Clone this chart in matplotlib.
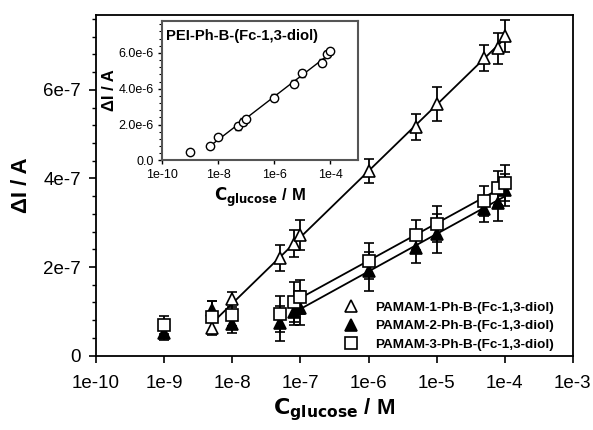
import numpy as np
import matplotlib.pyplot as plt
from matplotlib.lines import Line2D

plt.rcParams['font.family'] = ['Liberation Sans', 'DejaVu Sans']

# data
p1_x = [5e-9, 1e-8, 5e-8, 8e-8, 1e-7, 1e-6, 5e-6, 1e-5, 5e-5, 8e-5, 1e-4]
p1_y = [0.62e-7, 1.27e-7, 2.21e-7, 2.53e-7, 2.73e-7, 4.17e-7, 5.16e-7, 5.68e-7, 6.72e-7, 6.94e-7, 7.22e-7]
p1_err = [1.5e-8, 1.7e-8, 2.9e-8, 3.0e-8, 3.4e-8, 2.7e-8, 2.9e-8, 3.9e-8, 3.0e-8, 3.5e-8, 3.6e-8]

conc = [1e-9, 5e-9, 1e-8, 5e-8, 8e-8, 1e-7, 1e-6, 5e-6, 1e-5, 5e-5, 8e-5, 1e-4]
p2_y = [0.52e-7, 1.03e-7, 0.72e-7, 0.73e-7, 0.99e-7, 1.07e-7, 1.90e-7, 2.42e-7, 2.75e-7, 3.30e-7, 3.44e-7, 3.74e-7]
p2_err = [1.6e-8, 2.0e-8, 2.2e-8, 3.9e-8, 3.0e-8, 3.9e-8, 4.3e-8, 3.4e-8, 4.4e-8, 2.9e-8, 4.0e-8, 3.6e-8]
p3_y = [0.69e-7, 0.87e-7, 0.92e-7, 0.94e-7, 1.22e-7, 1.32e-7, 2.14e-7, 2.72e-7, 2.97e-7, 3.49e-7, 3.78e-7, 3.90e-7]
p3_err = [2.0e-8, 3.7e-8, 2.5e-8, 4.0e-8, 4.5e-8, 3.9e-8, 4.1e-8, 3.4e-8, 4.0e-8, 3.4e-8, 3.8e-8, 4.0e-8]

pei_y = [0.49e-6, 0.81e-6, 1.30e-6, 1.90e-6, 2.16e-6, 2.33e-6, 3.49e-6, 4.28e-6, 4.86e-6, 5.46e-6, 5.93e-6, 6.08e-6]
pei_err = [0.1e-6, 0.1e-6, 0.1e-6, 0.2e-6, 0.2e-6, 0.15e-6, 0.2e-6, 0.2e-6, 0.2e-6, 0.2e-6, 0.15e-6, 0.15e-6]

labels = ['PAMAM-1-Ph-B-(Fc-1,3-diol)', 'PAMAM-2-Ph-B-(Fc-1,3-diol)', 'PAMAM-3-Ph-B-(Fc-1,3-diol)']


def fit_line(ax, x, y, x0, x1, lw=1.3):
    x = np.array(x)
    y = np.array(y)
    m = (x >= x0) & (x <= x1)
    k, b = np.polyfit(np.log10(x[m]), y[m], 1)
    xs = np.array([x0, x1])
    ax.plot(xs, k * np.log10(xs) + b, color='black', lw=lw, zorder=2)


fig = plt.figure(figsize=(5.93, 4.30), dpi=100)
ax = fig.add_axes([0.162, 0.173, 0.804, 0.792])

fit_line(ax, p1_x, p1_y, 5e-9, 1e-4)
fit_line(ax, conc, p2_y, 8e-8, 1e-4)
fit_line(ax, conc, p3_y, 8e-8, 1e-4)

eb = dict(ecolor='black', elinewidth=1.3, capsize=3.6, capthick=1.3, ls='none', mec='black', mew=1.2, zorder=3)
ax.errorbar(p1_x, p1_y, yerr=p1_err, marker='^', ms=9, mfc='white', **eb)
ax.errorbar(conc, p2_y, yerr=p2_err, marker='^', ms=9, mfc='black', **eb)
ax.errorbar(conc, p3_y, yerr=p3_err, marker='s', ms=8, mfc='white', **eb)

ax.set_xscale('log')
ax.set_xlim(1e-10, 1e-3)
ax.set_ylim(0, 7.69e-7)
xt = [1e-10, 1e-9, 1e-8, 1e-7, 1e-6, 1e-5, 1e-4, 1e-3]
ax.set_xticks(xt, ['1e-10', '1e-9', '1e-8', '1e-7', '1e-6', '1e-5', '1e-4', '1e-3'])
ax.xaxis.set_minor_locator(plt.NullLocator())
ax.set_yticks([0, 2e-7, 4e-7, 6e-7], ['0', '2e-7', '4e-7', '6e-7'])
ax.set_yticks(np.arange(0, 7.7e-7, 0.4e-7), minor=True)
ax.tick_params(which='major', direction='out', length=5, width=1.2, labelsize=13.5, pad=6)
ax.tick_params(which='minor', direction='out', length=3, width=1.0)
ax.tick_params(axis='x', pad=9)
for s in ax.spines.values():
    s.set_linewidth(1.3)

ax.set_xlabel(r'$\mathbf{C}_{\mathbf{glucose}}$ / M', fontsize=16, fontweight='bold', labelpad=3)
ax.set_ylabel('ΔI / A', fontsize=16, fontweight='bold', labelpad=8)

handles = [
    Line2D([], [], ls='none', marker='^', ms=9, mfc='white', mec='black', mew=1.2),
    Line2D([], [], ls='none', marker='^', ms=9, mfc='black', mec='black', mew=1.2),
    Line2D([], [], ls='none', marker='s', ms=8, mfc='white', mec='black', mew=1.2),
]
leg = ax.legend(handles, labels, loc='lower right', bbox_to_anchor=(0.985, -0.022), frameon=False,
                prop={'weight': 'bold', 'size': 9.7}, handletextpad=1.0, labelspacing=0.45,
                handlelength=1.5)

# inset
ins = fig.add_axes([0.273, 0.627, 0.331, 0.325])
fit_line(ins, conc, pei_y, 5e-9, 1e-4, lw=1.0)
ins.errorbar(conc, pei_y, yerr=pei_err, marker='o', ms=6, mfc='white', mec='black', mew=1.0,
             ecolor='black', elinewidth=1.0, capsize=2, ls='none', zorder=3)
ins.set_xscale('log')
ins.set_xlim(1e-10, 1e-3)
ins.set_ylim(0, 7.8e-6)
ins.set_xticks([1e-10, 1e-8, 1e-6, 1e-4], ['1e-10', '1e-8', '1e-6', '1e-4'])
ins.xaxis.set_minor_locator(plt.NullLocator())
ins.set_yticks([0, 2e-6, 4e-6, 6e-6], ['0.0', '2.0e-6', '4.0e-6', '6.0e-6'])
ins.set_yticks(np.arange(0, 7.8e-6, 0.4e-6), minor=True)
ins.tick_params(which='major', direction='out', length=3, width=1.0, labelsize=9, pad=3)
ins.tick_params(which='minor', direction='out', length=2, width=0.8)
for s in ins.spines.values():
    s.set_linewidth(1.5)
    s.set_color('#555555')
ins.set_xlabel(r'$\mathbf{C}_{\mathbf{glucose}}$ / M', fontsize=12, fontweight='bold', labelpad=4)
ins.set_ylabel('ΔI / A', fontsize=12, fontweight='bold', labelpad=1)
ins.text(0.02, 0.94, 'PEI-Ph-B-(Fc-1,3-diol)', transform=ins.transAxes, fontsize=10.6,
         fontweight='bold', va='top', ha='left')

fig.savefig('out.png', dpi=100)
